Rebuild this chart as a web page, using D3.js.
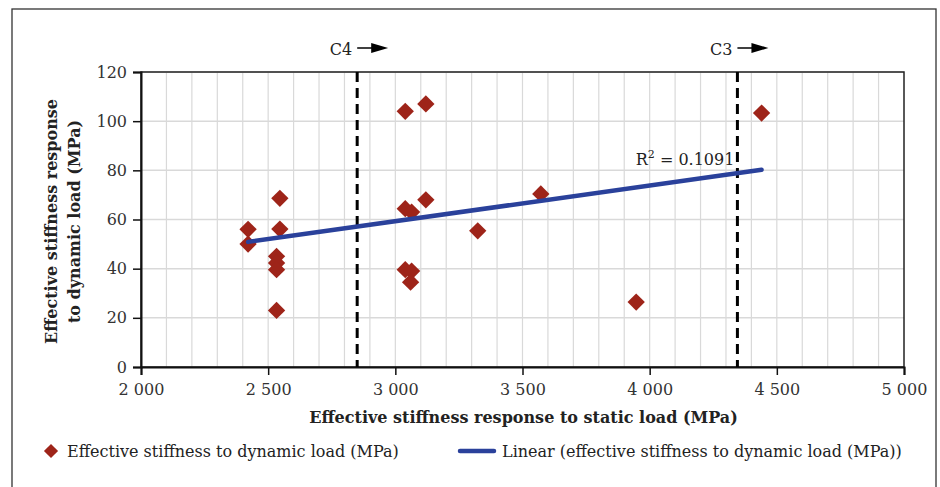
<!DOCTYPE html>
<html>
<head>
<meta charset="utf-8">
<script src="https://cdn.jsdelivr.net/npm/d3@7"></script>
<style>
  body { margin: 0; background: #fff; }
  text { font-family: "DejaVu Serif", serif; fill: #222; }
</style>
</head>
<body>
<div id="chart"></div>
<script>
// data
const staticLoad = [2421, 2421, 2546, 2546, 2533, 2533, 2533, 2533, 3039, 3120, 3039, 3064, 3120, 3039, 3064, 3060, 3324, 3572, 3947, 4440];
const dynamicLoad = [56, 50, 68.6, 56.1, 45, 42.3, 39.6, 23, 104, 107, 64.4, 63, 68, 39.6, 39, 34.5, 55.4, 70.4, 26.4, 103.3];
const trendX = [2421, 4440];
const trendY = [50.9, 80.2];
const xTicks = [2000, 2500, 3000, 3500, 4000, 4500, 5000];
const yTicks = [0, 20, 40, 60, 80, 100, 120];
const markers = [
	{ name: "C4", x: 2850 },
	{ name: "C3", x: 4345 }
];

const W = 940, H = 487;
const margin = { top: 72, right: 36, bottom: 120, left: 141 };
const width = W - margin.left - margin.right;
const height = H - margin.top - margin.bottom;

const red = "#9e2419";
const blue = "#2a419b";

const fmt = d3.formatLocale({ decimal: ".", thousands: " ", grouping: [3], currency: ["", ""] }).format(",");

const svgRoot = d3.select("#chart").append("svg")
	.attr("width", W)
	.attr("height", H);

// outer frame
svgRoot.append("rect")
	.attr("x", 12).attr("y", 9)
	.attr("width", 924).attr("height", H)
	.attr("fill", "none")
	.attr("stroke", "#333")
	.attr("stroke-width", 1.3);

const svg = svgRoot.append("g")
	.attr("transform", `translate(${margin.left},${margin.top})`);

// scales
const x = d3.scaleLinear().domain([2000, 5000]).range([0, width]);
const y = d3.scaleLinear().domain([0, 120]).range([height, 0]);

// grid
svg.append("g")
	.selectAll("line")
	.data(d3.range(2100, 5000, 100))
	.enter()
	.append("line")
	.attr("x1", d => x(d)).attr("x2", d => x(d))
	.attr("y1", 0).attr("y2", height)
	.attr("stroke", "#d9d9d9")
	.attr("stroke-width", 1.2);

svg.append("g")
	.selectAll("line")
	.data(yTicks.slice(1))
	.enter()
	.append("line")
	.attr("x1", 0).attr("x2", width)
	.attr("y1", d => y(d)).attr("y2", d => y(d))
	.attr("stroke", "#d9d9d9")
	.attr("stroke-width", 1.5);

// plot frame
svg.append("rect")
	.attr("width", width).attr("height", height)
	.attr("fill", "none")
	.attr("stroke", "#222")
	.attr("stroke-width", 1.5);

// axes
const xAxis = svg.append("g")
	.attr("transform", `translate(0,${height})`)
	.call(d3.axisBottom(x).tickValues(xTicks).tickSize(8).tickPadding(9).tickFormat(fmt));
const yAxis = svg.append("g")
	.call(d3.axisLeft(y).tickValues(yTicks).tickSize(8).tickPadding(6));

[xAxis, yAxis].forEach(a => {
	a.select(".domain").attr("stroke", "#111").attr("stroke-width", 2);
	a.selectAll(".tick line").attr("stroke", "#111").attr("stroke-width", 1.5);
	a.selectAll("text")
		.style("font-family", "DejaVu Serif")
		.style("font-size", "16px")
		.style("fill", "#333");
});

// dashed marker lines
markers.forEach(m => {
	svg.append("line")
		.attr("x1", x(m.x)).attr("x2", x(m.x))
		.attr("y1", 0).attr("y2", height)
		.attr("stroke", "#000")
		.attr("stroke-width", 3)
		.attr("stroke-dasharray", "10,6");

	svg.append("text")
		.attr("x", x(m.x) - 5)
		.attr("y", -17)
		.attr("text-anchor", "end")
		.style("font-size", "16px")
		.text(m.name);

	const ax = x(m.x);
	svg.append("line")
		.attr("x1", ax).attr("x2", ax + 18)
		.attr("y1", -24).attr("y2", -24)
		.attr("stroke", "#000")
		.attr("stroke-width", 1.5);
	svg.append("path")
		.attr("d", `M${ax + 14},-29 L${ax + 31},-24 L${ax + 14},-19 Z`)
		.attr("fill", "#000");
});

// points
const diamond = d3.symbol().type(d3.symbolSquare).size(150);
svg.selectAll(".pt")
	.data(staticLoad.map((d, i) => ({ sx: d, dy: dynamicLoad[i] })))
	.enter()
	.append("path")
	.attr("class", "pt")
	.attr("d", diamond)
	.attr("transform", d => `translate(${x(d.sx)},${y(d.dy)}) rotate(45)`)
	.attr("fill", red);

// trend line
svg.append("line")
	.attr("x1", x(trendX[0])).attr("y1", y(trendY[0]))
	.attr("x2", x(trendX[1])).attr("y2", y(trendY[1]))
	.attr("stroke", blue)
	.attr("stroke-width", 4.5)
	.attr("stroke-linecap", "round");

const r2 = svg.append("text")
	.attr("x", x(4345) - 3)
	.attr("y", y(80) - 5)
	.attr("text-anchor", "end")
	.style("font-size", "16px");
r2.append("tspan").text("R");
r2.append("tspan").attr("dy", -7).style("font-size", "11px").text("2");
r2.append("tspan").attr("dy", 7).text(" = 0.1091");

// axis titles
svg.append("text")
	.attr("x", width / 2 + 1)
	.attr("y", height + 56)
	.attr("text-anchor", "middle")
	.style("font-size", "16px")
	.style("font-weight", 700)
	.text("Effective stiffness response to static load (MPa)");

const yt = svg.append("text")
	.attr("transform", `translate(${-margin.left + 57},${height / 2 + 2}) rotate(-90)`)
	.attr("text-anchor", "middle")
	.style("font-size", "16px")
	.style("font-weight", 700);
yt.append("tspan").attr("x", 0).attr("dy", 0).text("Effective stiffness response");
yt.append("tspan").attr("x", 0).attr("dy", 23).text("to dynamic load (MPa)");

// legend
const leg = svgRoot.append("g").attr("transform", "translate(0,451)");
leg.append("path")
	.attr("d", d3.symbol().type(d3.symbolSquare).size(100))
	.attr("transform", "translate(51,0) rotate(45)")
	.attr("fill", red);
leg.append("text")
	.attr("x", 67).attr("y", 6)
	.style("font-size", "16px")
	.text("Effective stiffness to dynamic load (MPa)");
leg.append("line")
	.attr("x1", 460).attr("x2", 494)
	.attr("y1", 0).attr("y2", 0)
	.attr("stroke", blue)
	.attr("stroke-width", 4.5)
	.attr("stroke-linecap", "round");
leg.append("text")
	.attr("x", 502).attr("y", 6)
	.style("font-size", "16px")
	.text("Linear (effective stiffness to dynamic load (MPa))");
</script>
</body>
</html>
